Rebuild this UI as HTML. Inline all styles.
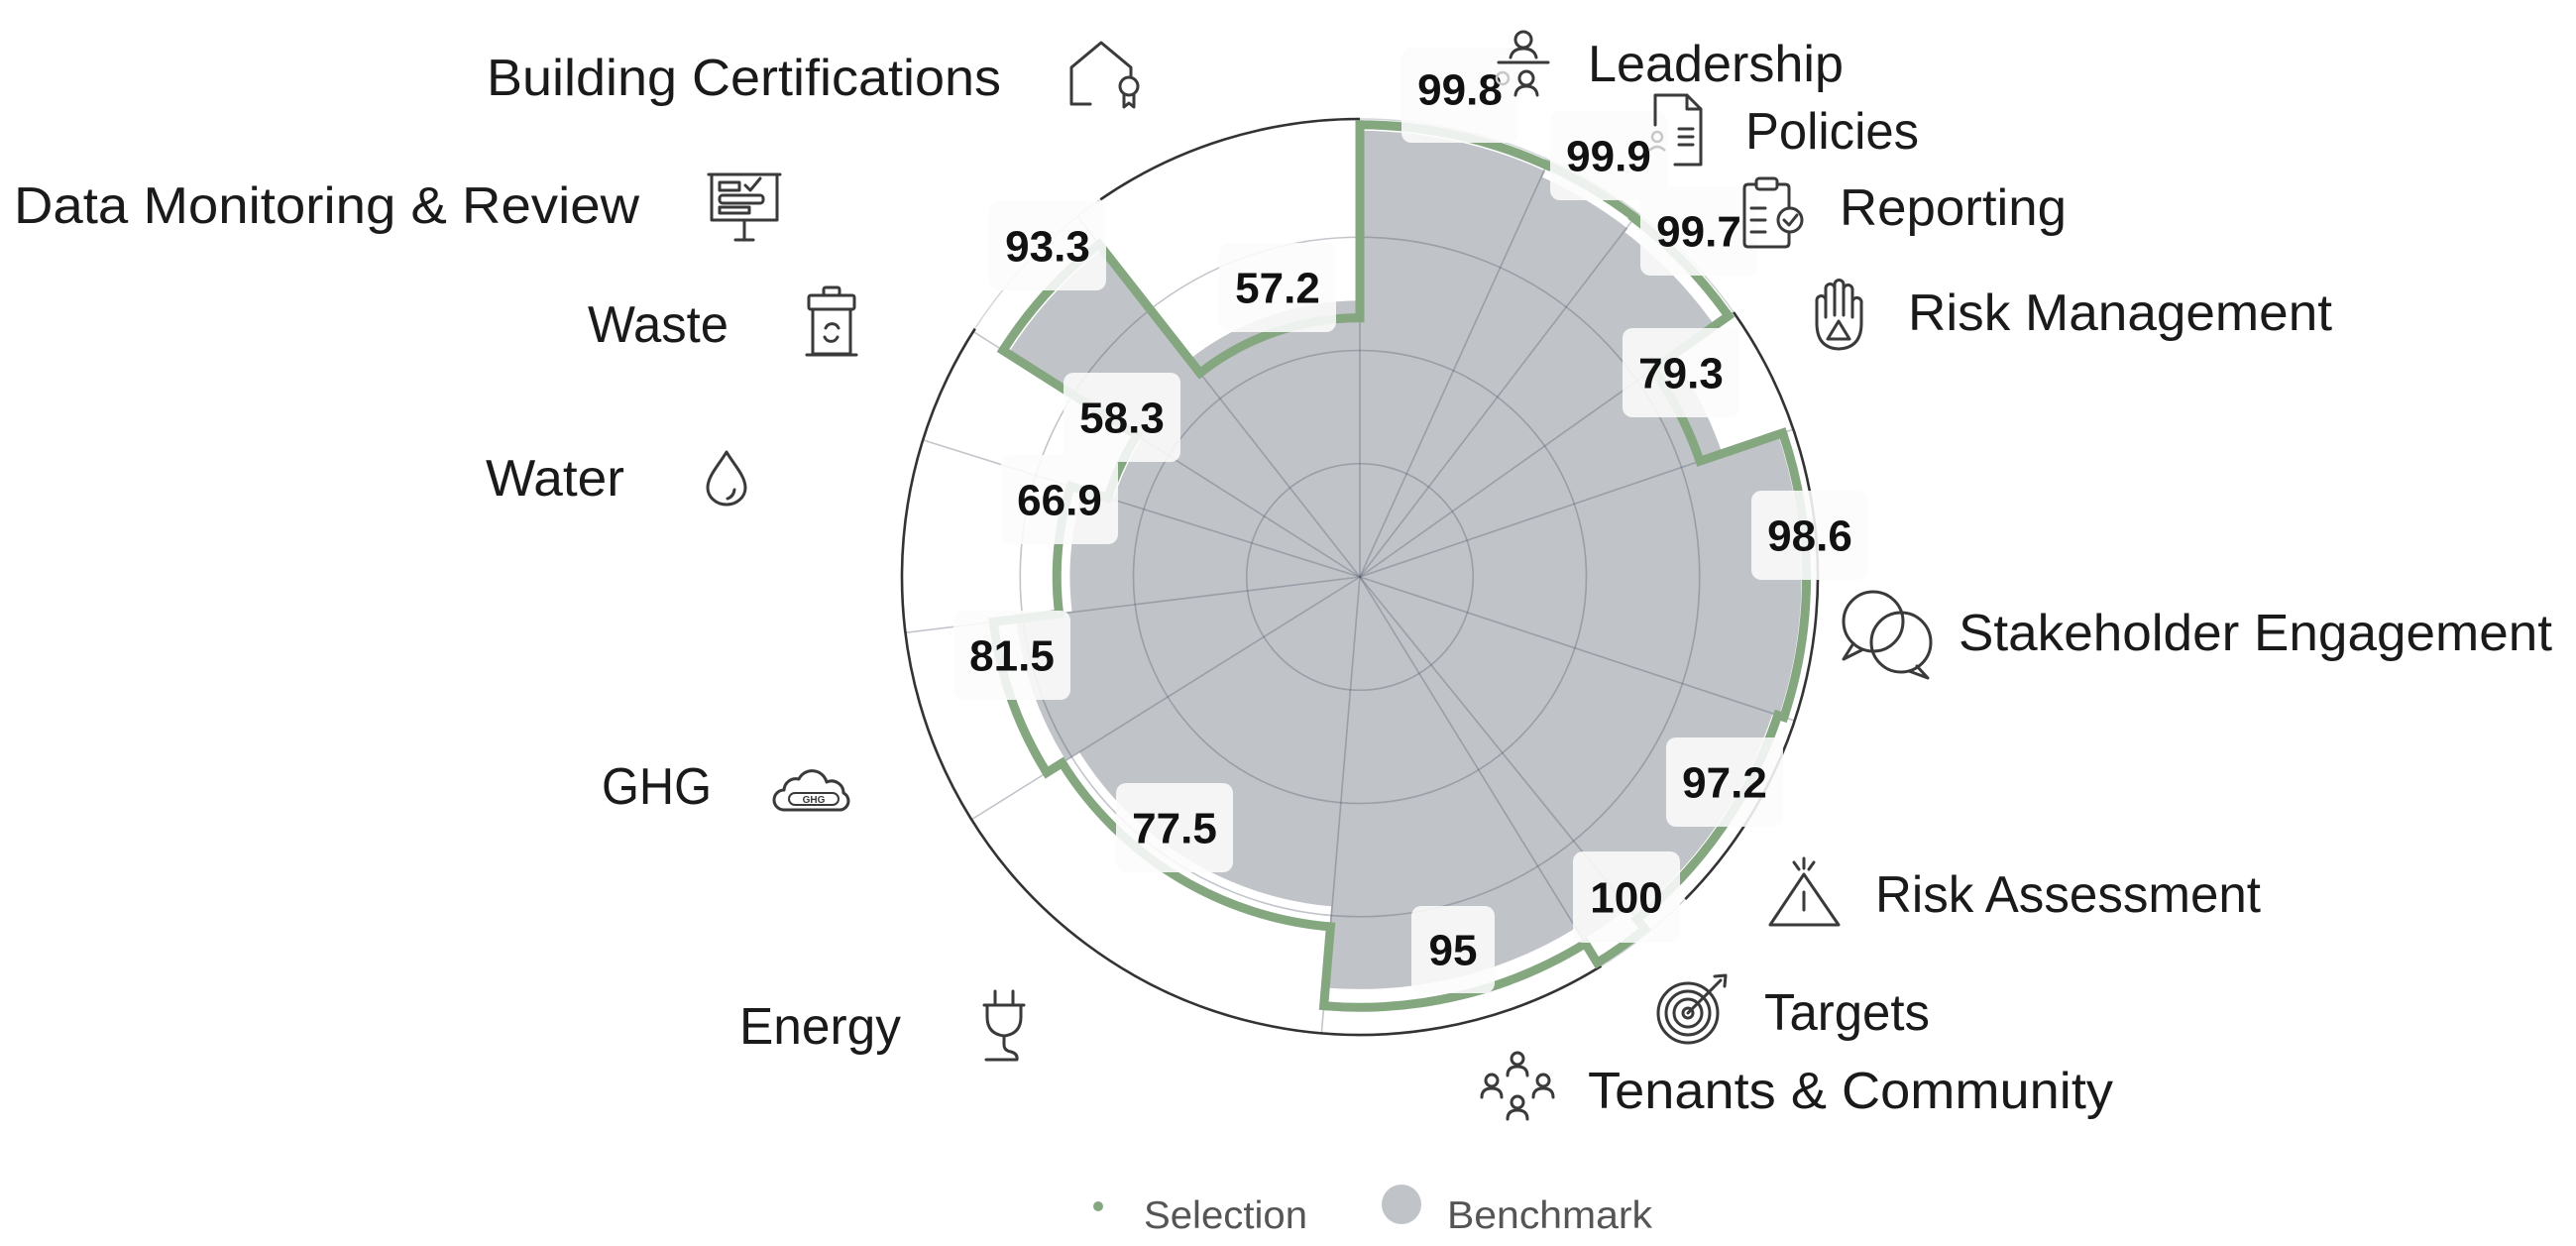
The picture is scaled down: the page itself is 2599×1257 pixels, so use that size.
<!DOCTYPE html>
<html>
<head>
<meta charset="utf-8">
<style>
html,body{margin:0;padding:0;background:#fff;width:2599px;height:1257px;overflow:hidden}
svg{display:block}
.cat{font-family:"Liberation Sans",Arial,sans-serif;font-size:52px;fill:#1a1a1a}
.val{font-family:"Liberation Sans",Arial,sans-serif;font-size:44px;font-weight:700;fill:#111;text-anchor:middle}
.leg{font-family:"Liberation Sans",Arial,sans-serif;font-size:39px;fill:#555}
.ic{fill:none;stroke:#3a3a3a;stroke-width:3;stroke-linecap:round;stroke-linejoin:round}
.bx{fill:#fcfcfc;fill-opacity:0.88}
</style>
</head>
<body>
<svg width="2599" height="1257" viewBox="0 0 2599 1257" xmlns="http://www.w3.org/2000/svg">
<rect x="0" y="0" width="2599" height="1257" fill="#fff"/>

<!-- Benchmark gray sectors -->
<g fill="none" stroke="#c0c3c8">
<circle cx="1372" cy="582" r="225.05" stroke-width="450.1" stroke-dasharray="96.4 5000" transform="rotate(-90 1372 582)"/>
<circle cx="1372" cy="582" r="221.65" stroke-width="443.3" stroke-dasharray="50.9 5000" transform="rotate(-65.6 1372 582)"/>
<circle cx="1372" cy="582" r="219.35" stroke-width="438.7" stroke-dasharray="66.8 5000" transform="rotate(-52.6 1372 582)"/>
<circle cx="1372" cy="582" r="193.1" stroke-width="386.2" stroke-dasharray="56.2 5000" transform="rotate(-35.3 1372 582)"/>
<circle cx="1372" cy="582" r="222.8" stroke-width="445.6" stroke-dasharray="144.9 5000" transform="rotate(-18.8 1372 582)"/>
<circle cx="1372" cy="582" r="219.35" stroke-width="438.7" stroke-dasharray="125.8 5000" transform="rotate(18.3 1372 582)"/>
<circle cx="1372" cy="582" r="214.8" stroke-width="429.6" stroke-dasharray="28.3 5000" transform="rotate(51 1372 582)"/>
<circle cx="1372" cy="582" r="207.95" stroke-width="415.9" stroke-dasharray="132.7 5000" transform="rotate(58.4 1372 582)"/>
<circle cx="1372" cy="582" r="166.8" stroke-width="333.6" stroke-dasharray="155.5 5000" transform="rotate(94.8 1372 582)"/>
<circle cx="1372" cy="582" r="174.8" stroke-width="349.6" stroke-dasharray="76.9 5000" transform="rotate(148 1372 582)"/>
<circle cx="1372" cy="582" r="146.25" stroke-width="292.5" stroke-dasharray="62.9 5000" transform="rotate(173 1372 582)"/>
<circle cx="1372" cy="582" r="130.25" stroke-width="260.5" stroke-dasharray="34.7 5000" transform="rotate(197.4 1372 582)"/>
<circle cx="1372" cy="582" r="210.2" stroke-width="420.4" stroke-dasharray="72.1 5000" transform="rotate(212.4 1372 582)"/>
<circle cx="1372" cy="582" r="139.4" stroke-width="278.8" stroke-dasharray="93.3 5000" transform="rotate(231.9 1372 582)"/>
</g>

<!-- Grid circles and spokes -->
<g fill="none" stroke="rgb(80,90,105)" stroke-opacity="0.35" stroke-width="1.6">
<circle cx="1372" cy="582" r="114.25"/>
<circle cx="1372" cy="582" r="228.5"/>
<circle cx="1372" cy="582" r="342.75"/>
<line x1="1372" y1="582" x2="1372" y2="120"/>
<line x1="1372" y1="582" x2="1372" y2="120" transform="rotate(24.4 1372 582)"/>
<line x1="1372" y1="582" x2="1372" y2="120" transform="rotate(37.4 1372 582)"/>
<line x1="1372" y1="582" x2="1372" y2="120" transform="rotate(54.7 1372 582)"/>
<line x1="1372" y1="582" x2="1372" y2="120" transform="rotate(71.2 1372 582)"/>
<line x1="1372" y1="582" x2="1372" y2="120" transform="rotate(108.3 1372 582)"/>
<line x1="1372" y1="582" x2="1372" y2="120" transform="rotate(141 1372 582)"/>
<line x1="1372" y1="582" x2="1372" y2="120" transform="rotate(148.4 1372 582)"/>
<line x1="1372" y1="582" x2="1372" y2="120" transform="rotate(184.8 1372 582)"/>
<line x1="1372" y1="582" x2="1372" y2="120" transform="rotate(238 1372 582)"/>
<line x1="1372" y1="582" x2="1372" y2="120" transform="rotate(263 1372 582)"/>
<line x1="1372" y1="582" x2="1372" y2="120" transform="rotate(287.4 1372 582)"/>
<line x1="1372" y1="582" x2="1372" y2="120" transform="rotate(302.4 1372 582)"/>
<line x1="1372" y1="582" x2="1372" y2="120" transform="rotate(321.9 1372 582)"/>
</g>

<!-- Outer circle -->
<circle cx="1372" cy="582" r="462" fill="none" stroke="#d3d6da" stroke-width="1.5"/>
<g fill="none" stroke="#333" stroke-width="2.6">
<circle cx="1372" cy="582" r="462" stroke-dasharray="645.1 5000" transform="rotate(-35.3 1372 582)"/>
<circle cx="1372" cy="582" r="462" stroke-dasharray="1246.6 5000" transform="rotate(58.2 1372 582)"/>
<circle cx="1372" cy="582" r="462" stroke-dasharray="278.2 5000" transform="rotate(235.5 1372 582)"/>
</g>

<!-- Selection green step line -->
<g fill="none" stroke="#84a780" stroke-width="9">
<circle cx="1372" cy="582" r="456.1" stroke-dasharray="194.23 5000" transform="rotate(-90 1372 582)"/>
<circle cx="1372" cy="582" r="456.5" stroke-dasharray="103.58 5000" transform="rotate(-65.6 1372 582)"/>
<circle cx="1372" cy="582" r="455.6" stroke-dasharray="137.56 5000" transform="rotate(-52.6 1372 582)"/>
<circle cx="1372" cy="582" r="362.4" stroke-dasharray="104.36 5000" transform="rotate(-35.3 1372 582)"/>
<circle cx="1372" cy="582" r="450.6" stroke-dasharray="291.77 5000" transform="rotate(-18.8 1372 582)"/>
<circle cx="1372" cy="582" r="444.2" stroke-dasharray="253.52 5000" transform="rotate(18.3 1372 582)"/>
<circle cx="1372" cy="582" r="457" stroke-dasharray="59.02 5000" transform="rotate(51 1372 582)"/>
<circle cx="1372" cy="582" r="434.2" stroke-dasharray="275.85 5000" transform="rotate(58.4 1372 582)"/>
<circle cx="1372" cy="582" r="354.2" stroke-dasharray="328.88 5000" transform="rotate(94.8 1372 582)"/>
<circle cx="1372" cy="582" r="372.5" stroke-dasharray="162.53 5000" transform="rotate(148 1372 582)"/>
<circle cx="1372" cy="582" r="305.7" stroke-dasharray="130.19 5000" transform="rotate(173 1372 582)"/>
<circle cx="1372" cy="582" r="266.4" stroke-dasharray="69.74 5000" transform="rotate(197.4 1372 582)"/>
<circle cx="1372" cy="582" r="426.4" stroke-dasharray="145.12 5000" transform="rotate(212.4 1372 582)"/>
<circle cx="1372" cy="582" r="261.4" stroke-dasharray="173.82 5000" transform="rotate(231.9 1372 582)"/>
</g>
<g stroke="#84a780" stroke-width="9" stroke-linecap="square">
<line x1="1372" y1="320.6" x2="1372" y2="125.9"/>
<line x1="1372" y1="125.9" x2="1372" y2="125.5" transform="rotate(24.4 1372 582)"/>
<line x1="1372" y1="125.5" x2="1372" y2="126.4" transform="rotate(37.4 1372 582)"/>
<line x1="1372" y1="126.4" x2="1372" y2="219.6" transform="rotate(54.7 1372 582)"/>
<line x1="1372" y1="219.6" x2="1372" y2="131.4" transform="rotate(71.2 1372 582)"/>
<line x1="1372" y1="131.4" x2="1372" y2="137.8" transform="rotate(108.3 1372 582)"/>
<line x1="1372" y1="137.8" x2="1372" y2="125" transform="rotate(141 1372 582)"/>
<line x1="1372" y1="125" x2="1372" y2="147.8" transform="rotate(148.4 1372 582)"/>
<line x1="1372" y1="147.8" x2="1372" y2="227.8" transform="rotate(184.8 1372 582)"/>
<line x1="1372" y1="227.8" x2="1372" y2="209.5" transform="rotate(238 1372 582)"/>
<line x1="1372" y1="209.5" x2="1372" y2="276.3" transform="rotate(263 1372 582)"/>
<line x1="1372" y1="276.3" x2="1372" y2="315.6" transform="rotate(287.4 1372 582)"/>
<line x1="1372" y1="315.6" x2="1372" y2="155.6" transform="rotate(302.4 1372 582)"/>
<line x1="1372" y1="155.6" x2="1372" y2="320.6" transform="rotate(321.9 1372 582)"/>
</g>

<!-- Data label boxes -->
<g class="bx">
<rect x="1414" y="48" width="118" height="96" rx="10"/>
<rect x="1564" y="112" width="118" height="90" rx="10"/>
<rect x="1655" y="188" width="118" height="90" rx="10"/>
<rect x="1637" y="331" width="118" height="90" rx="10"/>
<rect x="1767" y="495" width="118" height="90" rx="10"/>
<rect x="1681" y="744" width="118" height="90" rx="10"/>
<rect x="1587" y="859" width="108" height="92" rx="10"/>
<rect x="1424" y="914" width="84" height="88" rx="10"/>
<rect x="1126" y="790" width="118" height="90" rx="10"/>
<rect x="962" y="616" width="118" height="90" rx="10"/>
<rect x="1010" y="459" width="118" height="90" rx="10"/>
<rect x="1073" y="376" width="118" height="90" rx="10"/>
<rect x="998" y="203" width="118" height="90" rx="10"/>
<rect x="1230" y="245" width="118" height="90" rx="10"/>
</g>

<!-- Data label values -->
<text class="val" x="1473" y="105.5">99.8</text>
<text class="val" x="1623" y="172.5">99.9</text>
<text class="val" x="1714" y="248.5">99.7</text>
<text class="val" x="1696" y="391.5">79.3</text>
<text class="val" x="1826" y="555.5">98.6</text>
<text class="val" x="1740" y="804.5">97.2</text>
<text class="val" x="1641" y="920.5">100</text>
<text class="val" x="1466" y="973.5">95</text>
<text class="val" x="1185" y="850.5">77.5</text>
<text class="val" x="1021" y="676.5">81.5</text>
<text class="val" x="1069" y="519.5">66.9</text>
<text class="val" x="1132" y="436.5">58.3</text>
<text class="val" x="1057" y="263.5">93.3</text>
<text class="val" x="1289" y="305.5">57.2</text>

<!-- Category labels -->
<text class="cat" x="491" y="96" textLength="519" lengthAdjust="spacingAndGlyphs">Building Certifications</text>
<text class="cat" x="14" y="225" textLength="631" lengthAdjust="spacingAndGlyphs">Data Monitoring &amp; Review</text>
<text class="cat" x="593" y="345" textLength="142" lengthAdjust="spacingAndGlyphs">Waste</text>
<text class="cat" x="490" y="500" textLength="140" lengthAdjust="spacingAndGlyphs">Water</text>
<text class="cat" x="607" y="811" textLength="111" lengthAdjust="spacingAndGlyphs">GHG</text>
<text class="cat" x="746" y="1053" textLength="163" lengthAdjust="spacingAndGlyphs">Energy</text>
<text class="cat" x="1602" y="1118" textLength="530" lengthAdjust="spacingAndGlyphs">Tenants &amp; Community</text>
<text class="cat" x="1780" y="1039" textLength="167" lengthAdjust="spacingAndGlyphs">Targets</text>
<text class="cat" x="1892" y="920" textLength="389" lengthAdjust="spacingAndGlyphs">Risk Assessment</text>
<text class="cat" x="1976" y="656" textLength="599" lengthAdjust="spacingAndGlyphs">Stakeholder Engagement</text>
<text class="cat" x="1925" y="333" textLength="428" lengthAdjust="spacingAndGlyphs">Risk Management</text>
<text class="cat" x="1856" y="227" textLength="229" lengthAdjust="spacingAndGlyphs">Reporting</text>
<text class="cat" x="1761" y="150" textLength="175" lengthAdjust="spacingAndGlyphs">Policies</text>
<text class="cat" x="1602" y="82" textLength="258" lengthAdjust="spacingAndGlyphs">Leadership</text>

<!-- Icons -->
<g class="ic">
<path d="M1100,105 H1081 V68 L1111,43 L1141,68 V76"/>
<circle cx="1139" cy="87" r="9"/>
<path d="M1134,95 V108 L1139,104 L1144,108 V95"/>
<path d="M715,176 H787"/>
<rect x="718" y="176" width="66" height="46"/>
<rect x="726" y="184" width="20" height="8"/>
<path d="M752,187 L757,192 L767,180"/>
<rect x="726" y="197" width="44" height="8" rx="3"/>
<rect x="726" y="209" width="30" height="6"/>
<path d="M751,222 V241 M742,242 H760"/>
<rect x="831" y="290" width="16" height="8" rx="2"/>
<rect x="816" y="298" width="46" height="14" rx="2"/>
<path d="M820,312 V357 H858 V312"/>
<path d="M814,358 H864"/>
<path d="M833,331 A7,7 0 0 1 846,331 M845,340 A7,7 0 0 1 832,340"/>
<path d="M733,456 C726,468 714,480 714,492 A19,17 0 0 0 752,492 C752,480 740,468 733,456 Z"/>
<path d="M741,494 Q740,501 734,503"/>
<path d="M791,817 H848 A9,9 0 0 0 851,800 A12,12 0 0 0 834,789 A15,15 0 0 0 806,786 A12,12 0 0 0 791,797 A10,10 0 0 0 791,817 Z"/>
<rect x="796" y="800" width="50" height="12" rx="6" stroke-width="2"/>
<path d="M1004,1000 V1014 M1022,1000 V1014"/>
<path d="M993,1014 H1033 M996,1014 V1026 Q996,1043 1013,1045 Q1030,1043 1030,1026 V1014"/>
<path d="M1013,1045 V1054 Q1013,1060 1020,1061 Q1027,1063 1026,1069 H995"/>
<circle cx="1531" cy="1068" r="6"/><path d="M1521,1085 Q1521,1076 1531,1076 Q1541,1076 1541,1085"/>
<circle cx="1505" cy="1090" r="6"/><path d="M1495,1107 Q1495,1098 1505,1098 Q1515,1098 1515,1107"/>
<circle cx="1557" cy="1090" r="6"/><path d="M1547,1107 Q1547,1098 1557,1098 Q1567,1098 1567,1107"/>
<circle cx="1531" cy="1112" r="6"/><path d="M1521,1129 Q1521,1120 1531,1120 Q1541,1120 1541,1129"/>
<circle cx="1703" cy="1022" r="30"/>
<circle cx="1703" cy="1022" r="22"/>
<circle cx="1703" cy="1022" r="14"/>
<circle cx="1703" cy="1022" r="5"/>
<path d="M1703,1022 L1736,989 M1730,985 L1741,984 L1740,995"/>
<path d="M1820,882 L1786,933 H1855 Z"/>
<path d="M1820,900 V918"/>
<path d="M1820,866 V876 M1810,870 L1815,877 M1830,870 L1825,877"/>
<circle cx="1890" cy="627" r="30"/>
<path d="M1870,649 L1860,665 L1878,656"/>
<circle cx="1918" cy="648" r="30"/>
<path d="M1934,672 L1945,684 L1926,677"/>
<path d="M1833,326 V303 A4.5,4.5 0 0 1 1842,303 V291 A4.5,4.5 0 0 1 1851,291 V287 A4.5,4.5 0 0 1 1860,287 V292 A4.5,4.5 0 0 1 1869,292 V304 A4.5,4.5 0 0 1 1878,306 V326 Q1878,351 1855,352 Q1833,351 1833,326 Z"/>
<path d="M1842,303 V320 M1851,291 V318 M1860,287 V318 M1869,292 V320"/>
<path d="M1855,324 L1844,342 H1866 Z"/>
<path d="M1772,186 H1764 Q1760,186 1760,190 V245 Q1760,249 1764,249 H1801 Q1805,249 1805,245 V236 M1805,210 V190 Q1805,186 1801,186 H1793"/>
<rect x="1772" y="180" width="21" height="11" rx="3"/>
<path d="M1767,210 H1781 M1767,222 H1781 M1767,234 H1781"/>
<circle cx="1806" cy="222" r="12"/>
<path d="M1800,222 L1805,227 L1813,217"/>
<path d="M1690,166 H1716 V110 L1702,96 H1670 V126"/>
<path d="M1702,96 V110 H1716"/>
<path d="M1694,130 H1708 M1694,138 H1708 M1694,146 H1708"/>
<circle cx="1537" cy="40" r="8"/>
<path d="M1524,58 Q1526,49 1537,49 Q1548,49 1550,58"/>
<path d="M1512,63 H1562"/>
<circle cx="1540" cy="79" r="7"/>
<path d="M1529,96 Q1530,87 1540,87 Q1550,87 1551,96"/>
</g>
<g fill="none" stroke="#c8c8c8" stroke-width="2.5">
<circle cx="1672" cy="138" r="5"/>
<path d="M1664,152 Q1672,144 1680,152"/>
<circle cx="1516" cy="79" r="6"/>
</g>
<text x="821" y="810" font-family="Liberation Sans, Arial, sans-serif" font-size="10" font-weight="700" fill="#3a3a3a" text-anchor="middle">GHG</text>

<!-- Legend -->
<circle cx="1108" cy="1217" r="5" fill="#84a780"/>
<text class="leg" x="1154" y="1239" textLength="165" lengthAdjust="spacingAndGlyphs">Selection</text>
<circle cx="1414" cy="1215" r="20" fill="#c0c3c8"/>
<text class="leg" x="1460" y="1239" textLength="207" lengthAdjust="spacingAndGlyphs">Benchmark</text>
</svg>
</body>
</html>
